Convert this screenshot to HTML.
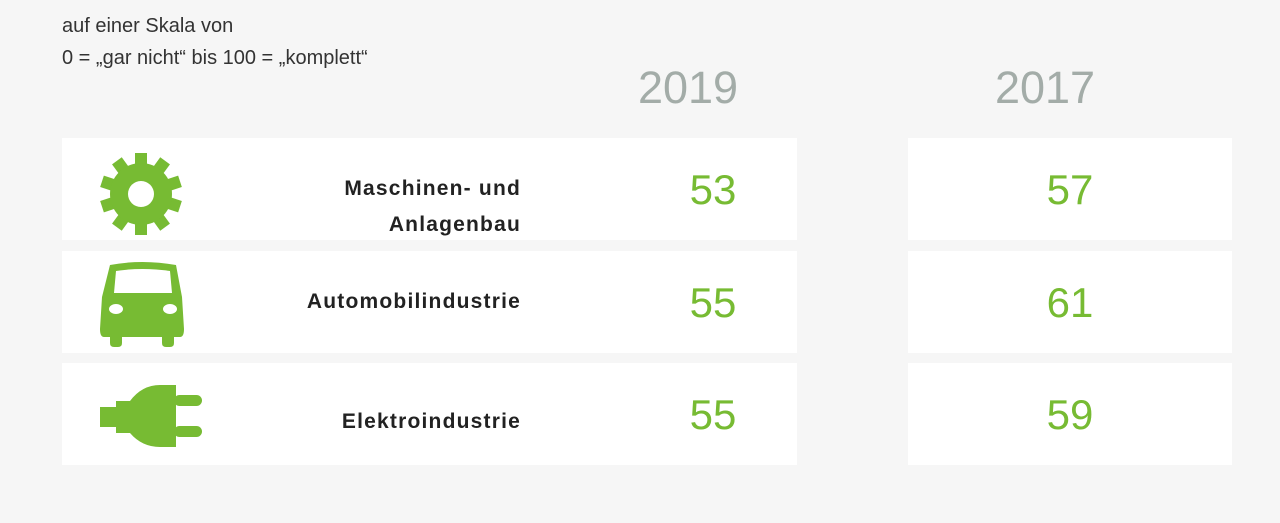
<!DOCTYPE html>
<html><head><meta charset="utf-8">
<style>
body{margin:0;width:1280px;height:523px;background:#f6f6f6;font-family:"Liberation Sans",sans-serif;position:relative;overflow:hidden}
.sub{position:absolute;left:62px;top:10px;font-size:20px;line-height:32px;color:#333}
.year{position:absolute;top:62px;font-size:45px;color:#a3aca8;width:200px;text-align:center}
.card{position:absolute;background:#fff}
.lab{position:absolute;width:300px;text-align:right;font-size:21px;font-weight:bold;color:#222;line-height:36px;letter-spacing:1.2px}
.val{position:absolute;font-size:42px;color:#77bb33;width:120px;text-align:center;line-height:40px}
.icon{position:absolute;left:96px}
</style></head><body>
<div class="sub">auf einer Skala von<br>0 = „gar nicht“ bis 100 = „komplett“</div>
<div class="year" style="left:588px">2019</div>
<div class="year" style="left:945px">2017</div>
<div id="rows"></div>
<script>
const categories=["Maschinen- und<br>Anlagenbau","Automobilindustrie","Elektroindustrie"];
const values2019=[53,55,55];
const values2017=[57,61,59];
const icons=[
'<svg width="90" height="90" viewBox="0 0 90 90"><g fill="#77bb33" transform="translate(45,42)">'+[0,1,2,3,4,5,6,7,8,9].map(i=>'<rect x="-6" y="-41" width="12" height="14" transform="rotate('+i*36+')"/>').join('')+'<circle r="31"/><circle r="13" fill="#fff"/></g></svg>',
'<svg width="92" height="90" viewBox="0 0 92 90"><path fill="#77bb33" d="M14 8 Q46 2 80 8 L86 40 L88 72 Q88 80 84 80 L78 80 L78 86 Q78 90 74 90 L70 90 Q66 90 66 86 L66 80 L26 80 L26 86 Q26 90 22 90 L18 90 Q14 90 14 86 L14 80 L8 80 Q4 80 4 72 L6 40 Z"/><path fill="#fff" d="M20 14 Q46 10 74 14 L76 36 L18 36 Z"/><ellipse cx="20" cy="52" rx="7" ry="5" fill="#fff"/><ellipse cx="74" cy="52" rx="7" ry="5" fill="#fff"/></svg>',
'<svg width="110" height="70" viewBox="0 0 110 70"><path fill="#77bb33" d="M4 24 L20 24 L20 18 L34 18 Q46 2 64 2 L80 2 L80 64 L64 64 Q46 64 34 50 L20 50 L20 44 L4 44 Z"/><rect x="78" y="12" width="28" height="11" rx="5.5" fill="#77bb33"/><rect x="78" y="43" width="28" height="11" rx="5.5" fill="#77bb33"/></svg>'
];
const iconTops=[14,6,20];
const labTops=[33,33,41];
const rows=document.getElementById('rows');
categories.forEach((c,i)=>{
  const top=138+i*112.5;
  const card=document.createElement('div');card.className='card';
  
  
  card.style.cssText='left:62px;top:'+top+'px;width:735px;height:102px';
  rows.appendChild(card);
  const card2=document.createElement('div');card2.className='card';
  
  
  card2.style.cssText='left:908px;top:'+top+'px;width:324px;height:102px';
  rows.appendChild(card2);
  const ic=document.createElement('div');ic.className='icon';ic.innerHTML=icons[i];
  
  
  ic.style.top=(top+iconTops[i])+'px';
  rows.appendChild(ic);
  const lab=document.createElement('div');lab.className='lab';lab.innerHTML=c;
  
  
  lab.style.left='221px';
  lab.style.top=(top+labTops[i])+'px';
  rows.appendChild(lab);
  const v1=document.createElement('div');v1.className='val';v1.textContent=values2019[i];
  
  
  v1.style.cssText='left:653px;top:'+(top+32)+'px';
  rows.appendChild(v1);
  const v2=document.createElement('div');v2.className='val';v2.textContent=values2017[i];
  
  
  v2.style.cssText='left:1010px;top:'+(top+32)+'px';
  rows.appendChild(v2);
});
</script>
</body></html>
